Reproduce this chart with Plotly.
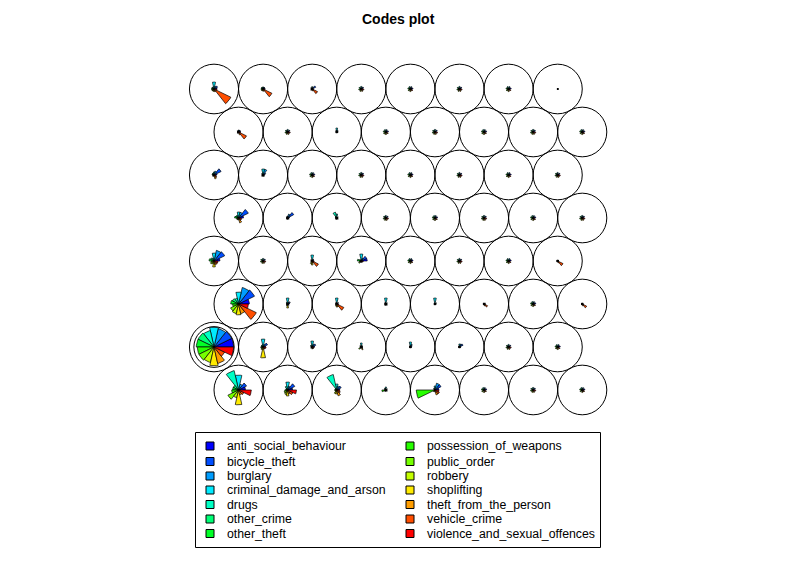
import colorsys
import numpy as np
import plotly.graph_objects as go

# ---------------- data: SOM codebook vectors (scaled 0..1), 64 units, bottom row first ----------------
var_names = ["anti_social_behaviour", "bicycle_theft", "burglary", "criminal_damage_and_arson",
             "drugs", "other_crime", "other_theft", "possession_of_weapons", "public_order",
             "robbery", "shoplifting", "theft_from_the_person", "vehicle_crime",
             "violence_and_sexual_offences"]

anti_social_behaviour = [.35, .25, .15, .08, .20, .13, .07, .13,
                         1.0, .12, .12, .08, .08, .08, .07, .13,
                         .55, .10, .08, .08, .08, .08, .13, .06,
                         .30, .07, .08, .30, .13, .07, .13, .06,
                         .25, .10, .08, .07, .13, .07, .13, .07,
                         .15, .10, .13, .07, .13, .07, .13, .07,
                         .10, .07, .08, .13, .07, .13, .07, .13,
                         .15, .10, .08, .07, .13, .07, .13, .03]
bicycle_theft = [.45, .40, .25, .08, .35, .07, .13, .07,
                 1.0, .25, .20, .08, .10, .20, .13, .07,
                 .90, .15, .10, .08, .08, .08, .07, .06,
                 .60, .13, .10, .30, .07, .13, .07, .06,
                 .55, .35, .08, .13, .07, .13, .07, .13,
                 .40, .15, .07, .13, .07, .13, .07, .13,
                 .10, .13, .08, .07, .13, .07, .13, .07,
                 .20, .10, .20, .13, .07, .13, .07, .03]
burglary = [.30, .20, .20, .08, .35, .13, .07, .13,
            .95, .15, .15, .08, .15, .15, .07, .13,
            .85, .10, .08, .08, .08, .06, .13, .06,
            .55, .07, .08, .15, .13, .07, .13, .06,
            .30, .20, .08, .07, .13, .07, .13, .07,
            .20, .30, .13, .07, .13, .07, .13, .07,
            .10, .07, .10, .13, .07, .13, .07, .13,
            .15, .10, .08, .07, .13, .07, .13, .03]
criminal_damage_and_arson = [.75, .40, .30, .15, .20, .07, .13, .07,
                             1.0, .40, .30, .20, .25, .15, .13, .07,
                             .60, .30, .30, .30, .30, .06, .07, .06,
                             .40, .13, .30, .35, .07, .13, .07, .06,
                             .30, .10, .20, .13, .07, .13, .07, .13,
                             .15, .30, .07, .13, .07, .13, .07, .13,
                             .10, .13, .20, .07, .13, .07, .13, .07,
                             .35, .10, .12, .13, .07, .13, .07, .03]
drugs = [1.0, .20, .80, .08, .10, .13, .07, .13,
         .85, .12, .10, .08, .08, .06, .07, .13,
         .30, .10, .08, .08, .06, .06, .13, .06,
         .15, .07, .08, .08, .13, .07, .13, .06,
         .15, .08, .30, .07, .13, .07, .13, .07,
         .10, .10, .13, .07, .13, .07, .13, .07,
         .08, .07, .08, .13, .07, .13, .07, .13,
         .12, .10, .08, .07, .13, .07, .13, .03]
other_crime = [.30, .10, .10, .10, .08, .07, .13, .07,
               .90, .10, .10, .08, .06, .06, .13, .07,
               .35, .08, .08, .08, .06, .06, .07, .06,
               .20, .13, .08, .10, .07, .13, .07, .06,
               .15, .08, .10, .13, .07, .13, .07, .13,
               .10, .08, .07, .13, .07, .13, .07, .13,
               .08, .13, .08, .07, .13, .07, .13, .07,
               .12, .10, .08, .13, .07, .13, .07, .03]
other_theft = [.30, .10, .10, .08, .08, .13, .07, .13,
               .90, .10, .08, .08, .06, .06, .07, .13,
               .40, .08, .08, .08, .06, .06, .13, .06,
               .25, .07, .08, .20, .13, .07, .13, .06,
               .20, .08, .08, .07, .13, .07, .13, .07,
               .10, .08, .13, .07, .13, .07, .13, .07,
               .08, .07, .06, .13, .07, .13, .07, .13,
               .12, .10, .08, .07, .13, .07, .13, .03]
possession_of_weapons = [.35, .15, .10, .20, .95, .07, .13, .07,
                         .85, .12, .08, .08, .06, .06, .13, .07,
                         .30, .08, .08, .08, .06, .06, .07, .06,
                         .15, .13, .08, .10, .07, .13, .07, .06,
                         .10, .08, .08, .13, .07, .13, .07, .13,
                         .08, .08, .07, .13, .07, .13, .07, .13,
                         .08, .13, .06, .07, .13, .07, .13, .07,
                         .12, .10, .08, .13, .07, .13, .07, .03]
public_order = [.60, .20, .10, .08, .10, .13, .07, .13,
                .85, .12, .08, .15, .06, .06, .07, .13,
                .45, .08, .08, .08, .06, .06, .13, .06,
                .20, .07, .08, .15, .13, .07, .13, .06,
                .10, .08, .08, .07, .13, .07, .13, .07,
                .08, .08, .13, .07, .13, .07, .13, .07,
                .08, .07, .06, .13, .07, .13, .07, .13,
                .12, .10, .08, .07, .13, .07, .13, .03]
robbery = [.40, .25, .20, .08, .08, .07, .13, .07,
           .80, .15, .08, .08, .06, .06, .13, .07,
           .50, .10, .10, .08, .06, .06, .07, .06,
           .15, .13, .15, .08, .07, .13, .07, .06,
           .10, .08, .08, .13, .07, .13, .07, .13,
           .08, .08, .07, .13, .07, .13, .07, .13,
           .08, .13, .06, .07, .13, .07, .13, .07,
           .12, .10, .08, .13, .07, .13, .07, .03]
shoplifting = [.75, .30, .20, .08, .10, .13, .07, .13,
               .95, .55, .10, .08, .06, .06, .07, .13,
               .55, .20, .15, .08, .06, .06, .13, .06,
               .30, .07, .20, .08, .13, .07, .13, .06,
               .10, .08, .08, .07, .13, .07, .13, .07,
               .08, .08, .13, .07, .13, .07, .13, .07,
               .08, .07, .06, .13, .07, .13, .07, .13,
               .12, .10, .08, .07, .13, .07, .13, .03]
theft_from_the_person = [.25, .20, .30, .08, .25, .07, .13, .08,
                         .85, .12, .08, .15, .06, .06, .13, .07,
                         .50, .08, .15, .08, .06, .10, .07, .10,
                         .20, .13, .10, .08, .07, .13, .07, .10,
                         .25, .08, .08, .13, .07, .13, .07, .13,
                         .20, .08, .07, .13, .07, .13, .07, .13,
                         .15, .13, .06, .07, .13, .07, .13, .07,
                         .15, .12, .10, .13, .07, .13, .07, .03]
vehicle_crime = [.30, .30, .20, .08, .25, .13, .07, .13,
                 .60, .12, .10, .08, .06, .06, .07, .13,
                 1.0, .08, .40, .08, .06, .20, .13, .25,
                 .20, .07, .35, .08, .13, .07, .13, .30,
                 .15, .08, .08, .07, .13, .07, .13, .07,
                 .15, .08, .13, .07, .13, .07, .13, .07,
                 .45, .07, .06, .13, .07, .13, .07, .13,
                 .95, .50, .30, .07, .13, .07, .13, .03]
violence_and_sexual_offences = [.65, .45, .15, .08, .20, .07, .13, .08,
                                1.0, .15, .10, .08, .06, .06, .13, .07,
                                .50, .08, .10, .08, .06, .08, .07, .08,
                                .20, .13, .10, .10, .07, .13, .07, .08,
                                .15, .08, .08, .13, .07, .13, .07, .13,
                                .10, .08, .07, .13, .07, .13, .07, .13,
                                .10, .13, .06, .07, .13, .07, .13, .07,
                                .15, .10, .08, .13, .07, .13, .07, .03]

series = [anti_social_behaviour, bicycle_theft, burglary, criminal_damage_and_arson, drugs,
          other_crime, other_theft, possession_of_weapons, public_order, robbery, shoplifting,
          theft_from_the_person, vehicle_crime, violence_and_sexual_offences]

# ---------------- grid geometry (hexagonal 8 x 8, kohonen style) ----------------
XDIM, YDIM = 8, 8
N_VAR = len(var_names)
unit_x, unit_y = [], []
for u in range(XDIM * YDIM):
    j = u // XDIM + 1
    i = u % XDIM + 1
    unit_x.append(i + 0.5 if j % 2 == 1 else float(i))
    unit_y.append(j * np.sqrt(3) / 2)

LEN = 0.4  # star length

# colours: rev(rainbow(14, end = 2/3))
colors = []
for k in range(N_VAR):
    h = (N_VAR - 1 - k) / (N_VAR - 1) * (2 / 3)
    r, g, b = colorsys.hsv_to_rgb(h, 1, 1)
    colors.append("rgb(%d,%d,%d)" % (round(r * 255), round(g * 255), round(b * 255)))

W, H = 796, 562
SX = 49.1
SY = 49.65
xmin = 1 - 214 / SX
xmax = xmin + W / SX
ymax = unit_y[-1] + 89 / SY
ymin = ymax - H / SY

fig = go.Figure()
step = 2 * np.pi / N_VAR
for k in range(N_VAR):
    xs, ys = [], []
    for u in range(XDIM * YDIM):
        r = LEN * series[k][u]
        cx, cy = unit_x[u], unit_y[u]
        angs = np.linspace(k * step, (k + 1) * step, 10)
        xs += [cx] + list(cx + r * np.cos(angs)) + [cx, None]
        ys += [cy] + list(cy + r * np.sin(angs)) + [cy, None]
    fig.add_trace(go.Scatter(x=xs, y=ys, mode="lines", fill="toself", fillcolor=colors[k],
                             line=dict(color="black", width=0.7), hoverinfo="skip",
                             showlegend=False))

shapes = []
for u in range(XDIM * YDIM):
    shapes.append(dict(type="circle", xref="x", yref="y",
                       x0=unit_x[u] - 0.5, x1=unit_x[u] + 0.5,
                       y0=unit_y[u] - 0.5, y1=unit_y[u] + 0.5,
                       line=dict(color="black", width=1)))
# highlighted ring on the largest unit
big = 8
shapes.append(dict(type="circle", xref="x", yref="y",
                   x0=unit_x[big] - 0.41, x1=unit_x[big] + 0.41,
                   y0=unit_y[big] - 0.41, y1=unit_y[big] + 0.41,
                   line=dict(color="black", width=1)))

# legend box (manual, two columns)
def px(x):
    return x / W

def py(y):
    return 1 - y / H

shapes.append(dict(type="rect", xref="paper", yref="paper", x0=px(195.5), x1=px(600.5),
                   y0=py(547.5), y1=py(432.5), line=dict(color="black", width=1)))
annotations = []
row_y = [446, 461.5, 476, 490, 504.5, 519, 533.5]
for k, name in enumerate(var_names):
    col = k // 7
    rr = k % 7
    sx0 = 206 if col == 0 else 406
    tx = 225 if col == 0 else 425
    yy = row_y[rr]
    shapes.append(dict(type="rect", xref="paper", yref="paper",
                       x0=px(sx0), x1=px(sx0 + 8), y0=py(yy + 4), y1=py(yy - 4),
                       fillcolor=colors[k], line=dict(color="black", width=1)))
    annotations.append(dict(x=px(tx), y=py(yy), xref="paper", yref="paper", text=name,
                            showarrow=False, xanchor="left", yanchor="middle",
                            font=dict(size=12.3, color="black",
                                      family="Liberation Sans, Arial, sans-serif")))

annotations.append(dict(x=px(398), y=py(19.5), xref="paper", yref="paper",
                        text="<b>Codes plot</b>", showarrow=False, xanchor="center",
                        yanchor="middle",
                        font=dict(size=14, color="black",
                                  family="Liberation Sans, Arial, sans-serif")))

fig.update_layout(width=W, height=H, margin=dict(l=0, r=0, t=0, b=0),
                  paper_bgcolor="white", plot_bgcolor="white",
                  shapes=shapes, annotations=annotations, showlegend=False,
                  xaxis=dict(range=[xmin, xmax], visible=False, fixedrange=True),
                  yaxis=dict(range=[ymin, ymax], visible=False, fixedrange=True))
fig.write_html("out.html", config={"displayModeBar": False})
